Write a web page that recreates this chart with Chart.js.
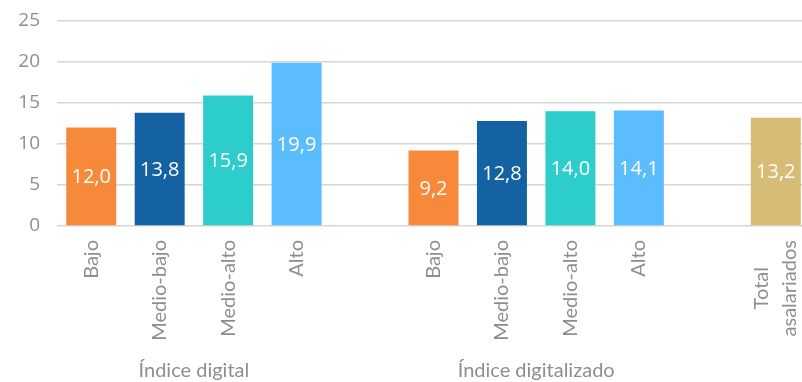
<!DOCTYPE html>
<html lang="es">
<head>
<meta charset="utf-8">
<title>Índice digital / Índice digitalizado</title>
<script src="https://cdn.jsdelivr.net/npm/chart.js@4"></script>
<style>
    html, body { margin: 0; padding: 0; background: #fff; overflow: hidden; }
    .chart-box { position: relative; width: 810px; height: 382px; }
</style>
</head>
<body>
<div class="chart-box">
    <canvas id="salaryChart"></canvas>
</div>
<script>
// Levels shared by both indices
const levels = ['Bajo', 'Medio-bajo', 'Medio-alto', 'Alto'];
const groupNames = ['Índice digital', 'Índice digitalizado'];
const indiceDigital = [12.0, 13.8, 15.9, 19.9];
const indiceDigitalizado = [9.2, 12.8, 14.0, 14.1];
const totalLabel = ['Total', 'asalariados'];
const totalAsalariados = 13.2;
const yTicks = [0, 5, 10, 15, 20, 25];

const levelColors = ['#f68a3a', '#1562a2', '#2dcdcc', '#5bbcfe'];
const totalColor = '#d7bc75';
const textGray = '#8e8e8e';
const gridGray = '#d6d6d6';

// One empty slot separates each block of bars
const labels = [...levels, '', ...levels, '', totalLabel];
const values = [...indiceDigital, null, ...indiceDigitalizado, null, totalAsalariados];
const colors = [...levelColors, 'rgba(0,0,0,0)', ...levelColors, 'rgba(0,0,0,0)', totalColor];
const groups = [[0, 1, 2, 3], [5, 6, 7, 8]];

const labelFont = '20px Lato';

// Draws the value inside each bar, the rotated category labels and the group titles
const annotate = {
    id: 'annotate',
    afterDatasetsDraw(chart) {
        const ctx = chart.ctx;
        const xScale = chart.scales.x;
        const meta = chart.getDatasetMeta(0);
        const axisY = chart.chartArea.bottom;

        ctx.save();
        ctx.font = '20px "Open Sans"';
        ctx.fillStyle = '#ffffff';
        ctx.textAlign = 'center';
        ctx.textBaseline = 'middle';
        meta.data.forEach((bar, i) => {
            const v = values[i];
            if (v === null) return;
            ctx.fillText(v.toFixed(1).replace('.', ','), bar.x, (bar.y + bar.base) / 2 + 1);
        });

        ctx.font = labelFont;
        ctx.fillStyle = textGray;
        labels.forEach((lab, i) => {
            const lines = Array.isArray(lab) ? lab : [lab];
            if (!lines[0]) return;
            const x = xScale.getPixelForValue(i);
            const w = Math.max(...lines.map(l => ctx.measureText(l).width));
            const lineH = 28;
            ctx.save();
            ctx.translate(x, axisY + 14);
            ctx.rotate(-Math.PI / 2);
            ctx.textAlign = 'center';
            ctx.textBaseline = 'middle';
            lines.forEach((l, k) => {
                ctx.fillText(l, -w / 2, (k - (lines.length - 1) / 2) * lineH);
            });
            ctx.restore();
        });

        ctx.textAlign = 'center';
        ctx.textBaseline = 'middle';
        groups.forEach((idx, g) => {
            const first = xScale.getPixelForValue(idx[0]);
            const last = xScale.getPixelForValue(idx[idx.length - 1]);
            ctx.fillText(groupNames[g], (first + last) / 2, 371);
        });
        ctx.restore();
    }
};

const ctx = document.getElementById('salaryChart').getContext('2d');
new Chart(ctx, {
    type: 'bar',
    data: {
        labels: labels,
        datasets: [{
            data: values,
            backgroundColor: colors,
            borderWidth: 0,
            barPercentage: 0.73,
            categoryPercentage: 1
        }]
    },
    options: {
        responsive: true,
        maintainAspectRatio: false,
        animation: false,
        layout: { padding: { top: 21, right: 0, left: 0, bottom: 0 } },
        plugins: {
            legend: { display: false },
            tooltip: { enabled: false }
        },
        scales: {
            x: {
                grid: { display: false, drawTicks: false },
                border: { display: false },
                ticks: { display: false },
                afterFit(scale) { scale.height = 156; }
            },
            y: {
                min: 0,
                max: 25,
                afterBuildTicks(scale) { scale.ticks = yTicks.map(v => ({ value: v })); },
                grid: { color: gridGray, lineWidth: 1.5, drawTicks: false },
                border: { display: false },
                ticks: {
                    color: textGray,
                    font: { family: 'Open Sans', size: 19 },
                    padding: 17
                },
                afterFit(scale) {
                    scale.width = 57;
                    scale.paddingTop = 0;
                    scale.paddingBottom = 0;
                }
            }
        }
    },
    plugins: [annotate]
});
</script>
</body>
</html>
